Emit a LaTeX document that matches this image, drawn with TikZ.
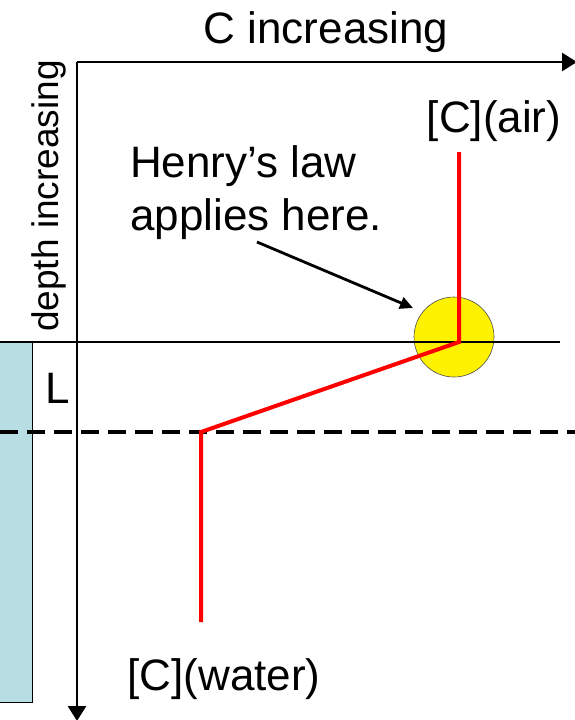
\documentclass[tikz,border=0pt]{standalone}
\usepackage{fontspec}
\setmainfont{Liberation Sans}
\usetikzlibrary{arrows.meta,calc}
\definecolor{waterblue}{RGB}{183,222,227}
\begin{document}
\begin{tikzpicture}[x=1pt,y=-1pt,
  lbl/.style={inner sep=0pt,font=\fontsize{44}{53}\selectfont},
  axis/.style={line width=2.6pt,-{Triangle[length=15pt,width=18pt]}},
  redline/.style={red,line width=4pt,line join=miter},
  callout/.style={line width=2.8pt,-{Triangle[length=13pt,width=12pt]}}]
\useasboundingbox (0,0) rectangle (575,720);
% water column
\node[draw=black,line width=0.8pt,fill=waterblue,minimum width=33pt,minimum height=360pt,inner sep=0pt,anchor=north west] (water) at (-1,342) {};
% dashed line
\coordinate (dl) at (0,432);
\coordinate (dr) at (575,432);
\draw[line width=4pt,dash pattern=on 18pt off 9pt] (dl) -- (dr);
% axes
\coordinate (origin) at (77,62);
\coordinate (xend) at (577,62);
\coordinate (yend) at (77,721);
\draw[axis] (origin) -- (xend);
\draw[axis] (origin) -- (yend);
% circle
\node[circle,draw=black!70,line width=0.6pt,fill=yellow,minimum size=80pt,inner sep=0pt] (circ) at (454,337) {};
% interface line
\coordinate (ifl) at (0,342);
\coordinate (ifr) at (560,342);
\draw[line width=1.1pt] (ifl) -- (ifr);
% red profile
\coordinate (r1) at (459,152);
\coordinate (r2) at (459,342);
\coordinate (r3) at (201,432);
\coordinate (r4) at (201,622);
\draw[redline] (r1) -- (r2) -- (r3) -- (r4);
% labels
\node[lbl,anchor=base] (cinc) at (326,43) {C increasing};
\node[lbl,anchor=base,rotate=90,font=\fontsize{37}{44}\selectfont] (dinc) at (58,196) {depth increasing};
\node[lbl,anchor=base] (cair) at (494,132) {[C](air)};
\node[lbl,anchor=base] (cwater) at (224,690) {[C](water)};
\node[lbl,anchor=base] (L) at (58,403) {L};
\node[lbl,anchor=base west] (henry1) at (130,177) {Henry’s law};
\node[lbl,anchor=base west] (henry2) at (130,230) {applies here.};
\coordinate (astart) at (257,242);
\coordinate (aend) at (413,308);
\draw[callout] (astart) -- (aend);
\end{tikzpicture}
\end{document}
